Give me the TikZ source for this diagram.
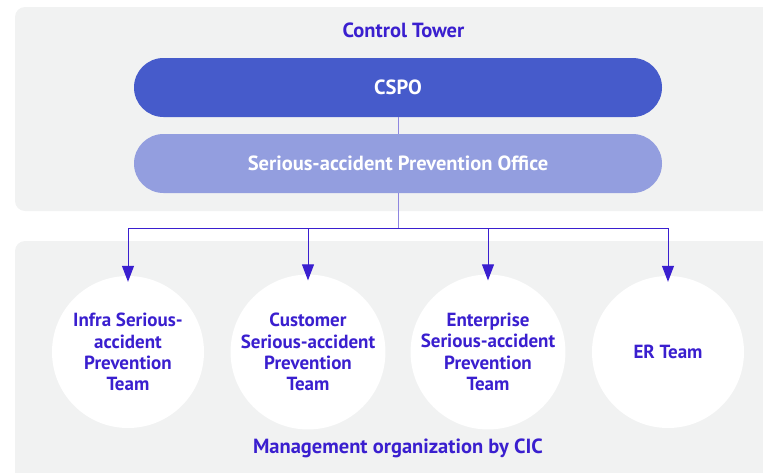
\documentclass[tikz,border=0pt]{standalone}
\usepackage{fontspec}
\setmainfont{PT Sans}
\usetikzlibrary{arrows.meta}
\definecolor{panel}{HTML}{F1F2F2}
\definecolor{cspo}{HTML}{465BCB}
\definecolor{spo}{HTML}{939EDF}
\definecolor{ink}{HTML}{3A1FCF}
\definecolor{lline}{HTML}{8E86E0}
\tikzset{
  pill/.style={rounded corners=29.5pt, minimum width=528pt, minimum height=59pt, draw=none, text=white, font=\bfseries\fontsize{20.5}{24}\selectfont},
  team/.style={circle, fill=white, minimum size=152pt, inner sep=0pt, align=center, text=ink, font=\bfseries\fontsize{19}{21.3}\selectfont},
  title/.style={text=ink, font=\bfseries\fontsize{20.5}{24}\selectfont},
  arr/.style={draw=ink, line width=1pt, -{Triangle[width=12pt,length=16pt]}},
}
\begin{document}
\begin{tikzpicture}[x=1pt,y=-1pt]
\useasboundingbox (0,0) rectangle (763,472);
\begin{scope}
\clip (0,0) rectangle (763,472);
\fill[panel, rounded corners=10pt] (15,7) rectangle (790,211);
\fill[panel, rounded corners=10pt] (15,241) rectangle (790,500);
\end{scope}
\node[title] (ct) at (403.5,30) {Control Tower};
\node[pill, fill=cspo] (cspo) at (398,87.5) {CSPO};
\node[pill, fill=spo] (spo) at (398,163.5) {Serious-accident Prevention Office};
\draw[lline, line width=1pt] (cspo.south) -- (spo.north);
\coordinate (hub) at (398,228);
\coordinate (b1) at (128,228);
\coordinate (b4) at (668,228);
\draw[lline, line width=1pt] (spo.south) -- (hub);
\draw[ink, line width=1pt] (b1) -- (b4);
\node[team] (t1) at (128,352) {Infra Serious-\\accident\\Prevention\\Team};
\node[team] (t2) at (308,352) {Customer\\Serious-accident\\Prevention\\Team};
\node[team] (t3) at (488,352) {Enterprise\\Serious-accident\\Prevention\\Team};
\node[team] (t4) at (668,352) {ER Team};
\foreach \i in {1,2,3,4} {
  \draw[arr] (t\i.north |- hub) -- ([yshift=-6pt]t\i.north);
}
\node[title] (mo) at (398,448) {Management organization by CIC};
\end{tikzpicture}
\end{document}
